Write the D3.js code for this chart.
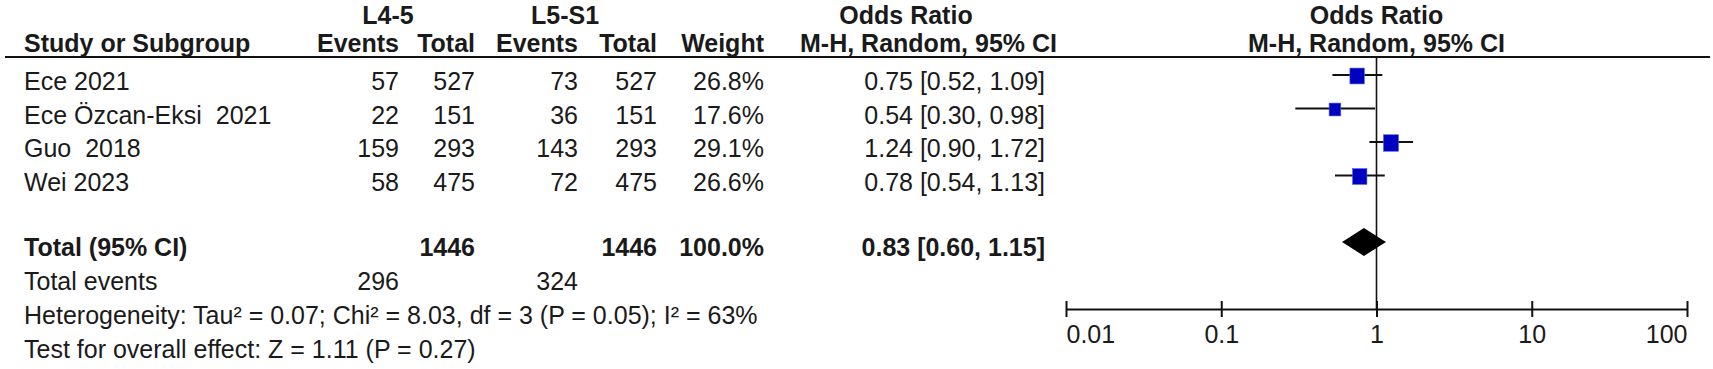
<!DOCTYPE html>
<html>
<head>
<meta charset="utf-8">
<script src="https://cdn.jsdelivr.net/npm/d3@7"></script>
<style>
  body { margin: 0; background: #fff; }
  svg text { font-family: "Liberation Sans", Arial, sans-serif; fill: #1a1a1a; white-space: pre; }
</style>
</head>
<body>
<div id="forest"></div>
<script>
// study rows
var studies = ["Ece 2021", "Ece Özcan-Eksi  2021", "Guo  2018", "Wei 2023"];
var l45Events = [57, 22, 159, 58];
var l45Total = [527, 151, 293, 475];
var l5s1Events = [73, 36, 143, 72];
var l5s1Total = [527, 151, 293, 475];
var weights = [26.8, 17.6, 29.1, 26.6];
var orMid = [0.75, 0.54, 1.24, 0.78];
var orLow = [0.52, 0.30, 0.90, 0.54];
var orHigh = [1.09, 0.98, 1.72, 1.13];

// pooled
var totalN = [1446, 1446];
var totalEvents = [296, 324];
var pooled = [0.83, 0.60, 1.15]; // mid, low, high
var hetText = "Heterogeneity: Tau² = 0.07; Chi² = 8.03, df = 3 (P = 0.05); I² = 63%";
var effText = "Test for overall effect: Z = 1.11 (P = 0.27)";

var tickVals = [0.01, 0.1, 1, 10, 100];
var tickLabels = ["0.01", "0.1", "1", "10", "100"];

var W = 1713, H = 369;
var fs = 25;

var svg = d3.select("#forest").append("svg")
    .attr("width", W).attr("height", H);

// row layout (marker centres; text baselines sit a bit lower)
var rowY = d3.scalePoint().domain(d3.range(studies.length)).range([75, 175.5]);
var tOff = 15;
var yDiamond = 242;
var yTotal = 256, yEvents = 290, yHet = 324, yEff = 358;
var yHead1 = 24, yHead2 = 52, yLine = 57;

var x = d3.scaleLog().domain([0.01, 100]).range([1066, 1687]);
var sq = d3.scaleSqrt().domain([0, d3.max(weights)]).range([0, 15]);

var colLabel = 24, col1 = 399, col2 = 475, col3 = 578, col4 = 657, colW = 764, colOR = 1045;

function txt(g, s, xx, yy, anchor, bold) {
    return g.append("text")
        .attr("x", xx).attr("y", yy)
        .attr("text-anchor", anchor || "start")
        .style("font-size", fs + "px")
        .style("font-weight", bold ? "bold" : "normal")
        .text(s);
}

// headers
var hd = svg.append("g");
txt(hd, "L4-5", 388, yHead1, "middle", true);
txt(hd, "L5-S1", 565, yHead1, "middle", true);
txt(hd, "Odds Ratio", 906, yHead1, "middle", true);
txt(hd, "Odds Ratio", x(1), yHead1, "middle", true);
txt(hd, "Study or Subgroup", colLabel, yHead2, "start", true);
txt(hd, "Events", col1, yHead2, "end", true);
txt(hd, "Total", col2, yHead2, "end", true);
txt(hd, "Events", col3, yHead2, "end", true);
txt(hd, "Total", col4, yHead2, "end", true);
txt(hd, "Weight", colW, yHead2, "end", true);
txt(hd, "M-H, Random, 95% CI", 1057, yHead2, "end", true);
txt(hd, "M-H, Random, 95% CI", x(1), yHead2, "middle", true);

svg.append("line")
    .attr("x1", 5).attr("x2", 1710)
    .attr("y1", yLine).attr("y2", yLine)
    .attr("stroke", "#111").attr("stroke-width", 2);

// study rows
var rows = svg.append("g");
studies.forEach(function (s, i) {
    var y = rowY(i) + tOff;
    txt(rows, s, colLabel, y);
    txt(rows, l45Events[i], col1, y, "end");
    txt(rows, l45Total[i], col2, y, "end");
    txt(rows, l5s1Events[i], col3, y, "end");
    txt(rows, l5s1Total[i], col4, y, "end");
    txt(rows, weights[i].toFixed(1) + "%", colW, y, "end");
    txt(rows, orMid[i].toFixed(2) + " [" + orLow[i].toFixed(2) + ", " + orHigh[i].toFixed(2) + "]", colOR, y, "end");
});

// totals
txt(rows, "Total (95% CI)", colLabel, yTotal, "start", true);
txt(rows, totalN[0], col2, yTotal, "end", true);
txt(rows, totalN[1], col4, yTotal, "end", true);
txt(rows, "100.0%", colW, yTotal, "end", true);
txt(rows, pooled[0].toFixed(2) + " [" + pooled[1].toFixed(2) + ", " + pooled[2].toFixed(2) + "]", colOR, yTotal, "end", true);
txt(rows, "Total events", colLabel, yEvents);
txt(rows, totalEvents[0], col1, yEvents, "end");
txt(rows, totalEvents[1], col3, yEvents, "end");
txt(rows, hetText, colLabel, yHet);
txt(rows, effText, colLabel, yEff);

// plot
var axisY = 309;
var plot = svg.append("g");

plot.append("line")
    .attr("x1", x(1)).attr("x2", x(1))
    .attr("y1", yLine).attr("y2", axisY)
    .attr("stroke", "#111").attr("stroke-width", 1.6);

plot.selectAll(".ci").data(studies).enter().append("line")
    .attr("x1", function (d, i) { return x(orLow[i]); })
    .attr("x2", function (d, i) { return x(orHigh[i]); })
    .attr("y1", function (d, i) { return rowY(i); })
    .attr("y2", function (d, i) { return rowY(i); })
    .attr("stroke", "#111").attr("stroke-width", 2);

plot.selectAll(".sq").data(studies).enter().append("rect")
    .attr("x", function (d, i) { return x(orMid[i]) - sq(weights[i]) / 2; })
    .attr("y", function (d, i) { return rowY(i) - sq(weights[i]) * 1.1 / 2 + 1; })
    .attr("width", function (d, i) { return sq(weights[i]); })
    .attr("height", function (d, i) { return sq(weights[i]) * 1.1; })
    .attr("fill", "#0000c0")
    .attr("stroke", "#4a5ae0").attr("stroke-width", 0.6);

var dh = 14;
plot.append("path")
    .attr("d", "M" + x(pooled[1]) + "," + yDiamond +
        "L" + x(pooled[0]) + "," + (yDiamond - dh) +
        "L" + x(pooled[2]) + "," + yDiamond +
        "L" + x(pooled[0]) + "," + (yDiamond + dh) + "Z")
    .attr("fill", "#000");

// axis
var axis = d3.axisBottom(x).tickValues(tickVals)
    .tickFormat(function (d, i) { return tickLabels[i]; })
    .tickSize(0);
var ax = svg.append("g").attr("transform", "translate(0," + axisY + ")").call(axis);
ax.select(".domain").attr("stroke", "#111").attr("stroke-width", 2);
ax.selectAll(".tick line").attr("y1", -8).attr("y2", 8)
    .attr("stroke", "#111").attr("stroke-width", 2);
ax.selectAll(".tick text")
    .attr("font-family", null)
    .attr("y", 34).attr("dy", null)
    .style("font-size", fs + "px")
    .attr("fill", "#1a1a1a")
    .attr("text-anchor", function (d, i) { return i === 0 ? "start" : (i === tickVals.length - 1 ? "end" : "middle"); });
</script>
</body>
</html>
